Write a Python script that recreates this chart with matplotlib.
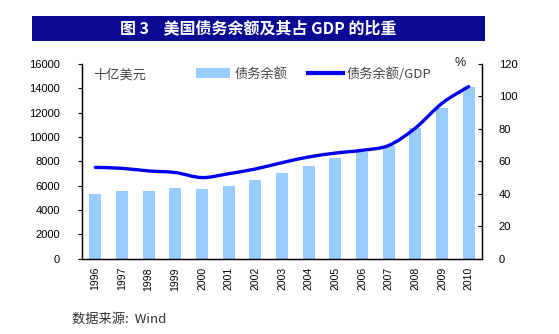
import numpy as np
import matplotlib.pyplot as plt
from matplotlib.patches import Rectangle, PathPatch
from matplotlib.path import Path
from matplotlib.lines import Line2D

plt.rcParams['font.family'] = ['Noto Sans CJK SC', 'DejaVu Sans']

years = ['1996', '1997', '1998', '1999', '2000', '2001', '2002', '2003',
         '2004', '2005', '2006', '2007', '2008', '2009', '2010']
debt = [5350, 5600, 5600, 5810, 5730, 5970, 6470, 7070,
        7640, 8290, 8800, 9290, 10770, 12360, 14110]
debt_gdp = [56.3, 55.7, 54.1, 53.1, 50.0, 52.4, 55.3, 59.2,
            62.7, 65.1, 66.8, 69.8, 80.5, 95.8, 106.1]

bar_color = '#99CCFF'
line_color = '#0000EE'
navy = '#0A0A94'

fig = plt.figure(figsize=(5.59, 3.34), dpi=100)
ax = fig.add_axes([0.1467, 0.2254, 0.7156, 0.583])
ax2 = ax.twinx()

x = np.arange(len(years))
ax.bar(x, debt, width=0.45, color=bar_color, zorder=2)
ax.set_xlim(-0.5, len(years) - 0.5)
ax.set_ylim(0, 16000)
ax.set_yticks(np.arange(0, 16001, 2000))
ax.set_xticks(x)
ax.set_xticklabels(years, rotation=90, fontsize=7.5, family='Liberation Sans')
ax.tick_params(axis='x', length=0, pad=6)
ax.tick_params(axis='y', direction='out', length=3, width=0.8, pad=13, labelsize=8)
for lab in ax.get_yticklabels():
    lab.set_family('Liberation Sans')

# smooth line through the ratio points (cubic bezier, catmull-rom style)
pts = np.column_stack([x, debt_gdp]).astype(float)
ext = np.vstack([pts[0], pts, pts[-1]])
verts = [tuple(pts[0])]
codes = [Path.MOVETO]
for i in range(len(pts) - 1):
    p0, p1, p2, p3 = ext[i], ext[i + 1], ext[i + 2], ext[i + 3]
    c1 = p1 + (p2 - p0) / 6
    c2 = p2 - (p3 - p1) / 6
    verts += [tuple(c1), tuple(c2), tuple(p2)]
    codes += [Path.CURVE4] * 3
ax2.add_patch(PathPatch(Path(verts, codes), facecolor='none',
                        edgecolor=line_color, linewidth=2.4, zorder=3,
                        capstyle='round'))
ax2.set_ylim(0, 120)
ax2.set_yticks(np.arange(0, 121, 20))
ax2.tick_params(axis='y', direction='in', length=3, width=0.8, pad=12, labelsize=8)
for lab in ax2.get_yticklabels():
    lab.set_family('Liberation Sans')

for a in (ax, ax2):
    a.spines['top'].set_visible(False)
    for s in ('left', 'right', 'bottom'):
        a.spines[s].set_linewidth(0.9)

# legend
handles = [Rectangle((0, 0), 1, 1, facecolor=bar_color, edgecolor='none'),
           Line2D([0], [0], color=line_color, linewidth=3)]
ax.legend(handles, ['债务余额', '债务余额/GDP'], ncol=2, frameon=False,
          loc='upper left', bbox_to_anchor=(0.255, 1.045), fontsize=9.5,
          handlelength=2.6, handleheight=0.8, handletextpad=0.3,
          columnspacing=1.6, labelcolor='#444444')
ax.text(0.028, 0.975, '十亿美元', transform=ax.transAxes, fontsize=9.5,
        color='#444444', va='top', ha='left')
ax2.text(0.945, 1.035, '%', transform=ax2.transAxes, fontsize=9,
         color='#222222', va='top', ha='center', family='Liberation Sans')

# title banner
fig.patches.append(Rectangle((0.0572, 0.877), 0.810, 0.075,
                             transform=fig.transFigure, facecolor=navy,
                             edgecolor='none'))
fig.text(0.4624, 0.9145, '图 3    美国债务余额及其占 GDP 的比重', color='white',
         fontsize=11.5, fontweight='bold', ha='center', va='center')

fig.text(0.129, 0.045, '数据来源:  Wind', fontsize=9.5, color='#333333',
         ha='left', va='center')

fig.savefig('out.png', dpi=100)
